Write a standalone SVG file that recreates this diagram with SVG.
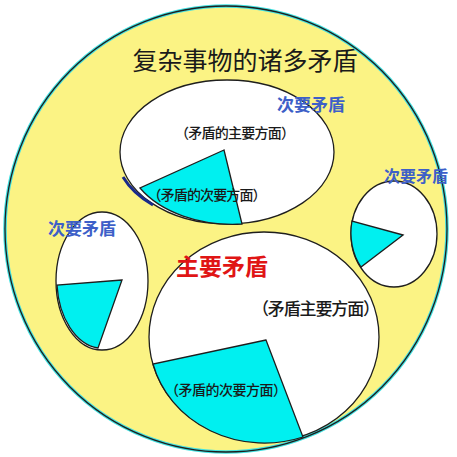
<svg xmlns="http://www.w3.org/2000/svg" width="457" height="457" viewBox="0 0 457 457">
<style>
.line{stroke:#1e1e1e;stroke-width:1.3;}
.white{fill:#ffffff;}
.cyan{fill:#00f0f0;}
text{font-family:"Noto Sans CJK SC","Noto Sans",sans-serif;text-anchor:middle;dominant-baseline:central;}
.dark{fill:#1a1a1a;font-weight:500;}
.title{fill:#1a1a1a;font-weight:400;}
.blue{fill:#3d5fc8;font-weight:bold;}
.red{fill:#e01515;font-weight:bold;}
</style>
<rect width="457" height="457" fill="#ffffff"/>
<g id="outer">
<ellipse cx="226" cy="229" rx="221" ry="223" fill="#fbf384" stroke="#40e0e0" stroke-width="3.5"/>
<ellipse cx="226" cy="229" rx="221" ry="223" fill="none" class="line"/>
<text x="245" y="59" class="title" font-size="25">复杂事物的诸多矛盾</text>
</g>
<g id="top-contradiction">
<ellipse cx="227" cy="152" rx="107" ry="72" class="white line"/>
<path d="M224,150 L140,188 A107,72 0 0,0 242,224 Z" class="cyan line"/>
<path d="M123,177 A107,72 0 0,0 153,205" fill="none" stroke="#1a2a8a" stroke-width="3"/>
<text x="235" y="132" class="dark" font-size="14" textLength="120" lengthAdjust="spacing">（矛盾的主要方面）</text>
<text x="207" y="194" class="dark" font-size="14" textLength="119" lengthAdjust="spacing">（矛盾的次要方面）</text>
<text x="311" y="103" class="blue" font-size="17">次要矛盾</text>
</g>
<g id="left-contradiction">
<ellipse cx="102" cy="281" rx="46" ry="69" class="white line"/>
<path d="M122,280 L57,285 A46,69 0 0,0 98,348 Z" class="cyan line"/>
<text x="82" y="227" class="blue" font-size="17">次要矛盾</text>
</g>
<g id="right-contradiction">
<ellipse cx="394" cy="234" rx="43" ry="53" class="white line"/>
<path d="M403,235 L352,221 A43,53 0 0,0 361,267 Z" class="cyan line"/>
<text x="416" y="175" class="blue" font-size="16">次要矛盾</text>
</g>
<g id="principal-contradiction">
<ellipse cx="264" cy="337" rx="115" ry="105" class="white line"/>
<path d="M266,340 L153,364 A115,105 0 0,0 303,437 Z" class="cyan line"/>
<text x="222" y="265" class="red" font-size="23">主要矛盾</text>
<text x="316" y="307" class="dark" font-size="17" textLength="128" lengthAdjust="spacing">（矛盾主要方面）</text>
<text x="226" y="389" class="dark" font-size="14" textLength="122" lengthAdjust="spacing">（矛盾的次要方面）</text>
</g>
</svg>
